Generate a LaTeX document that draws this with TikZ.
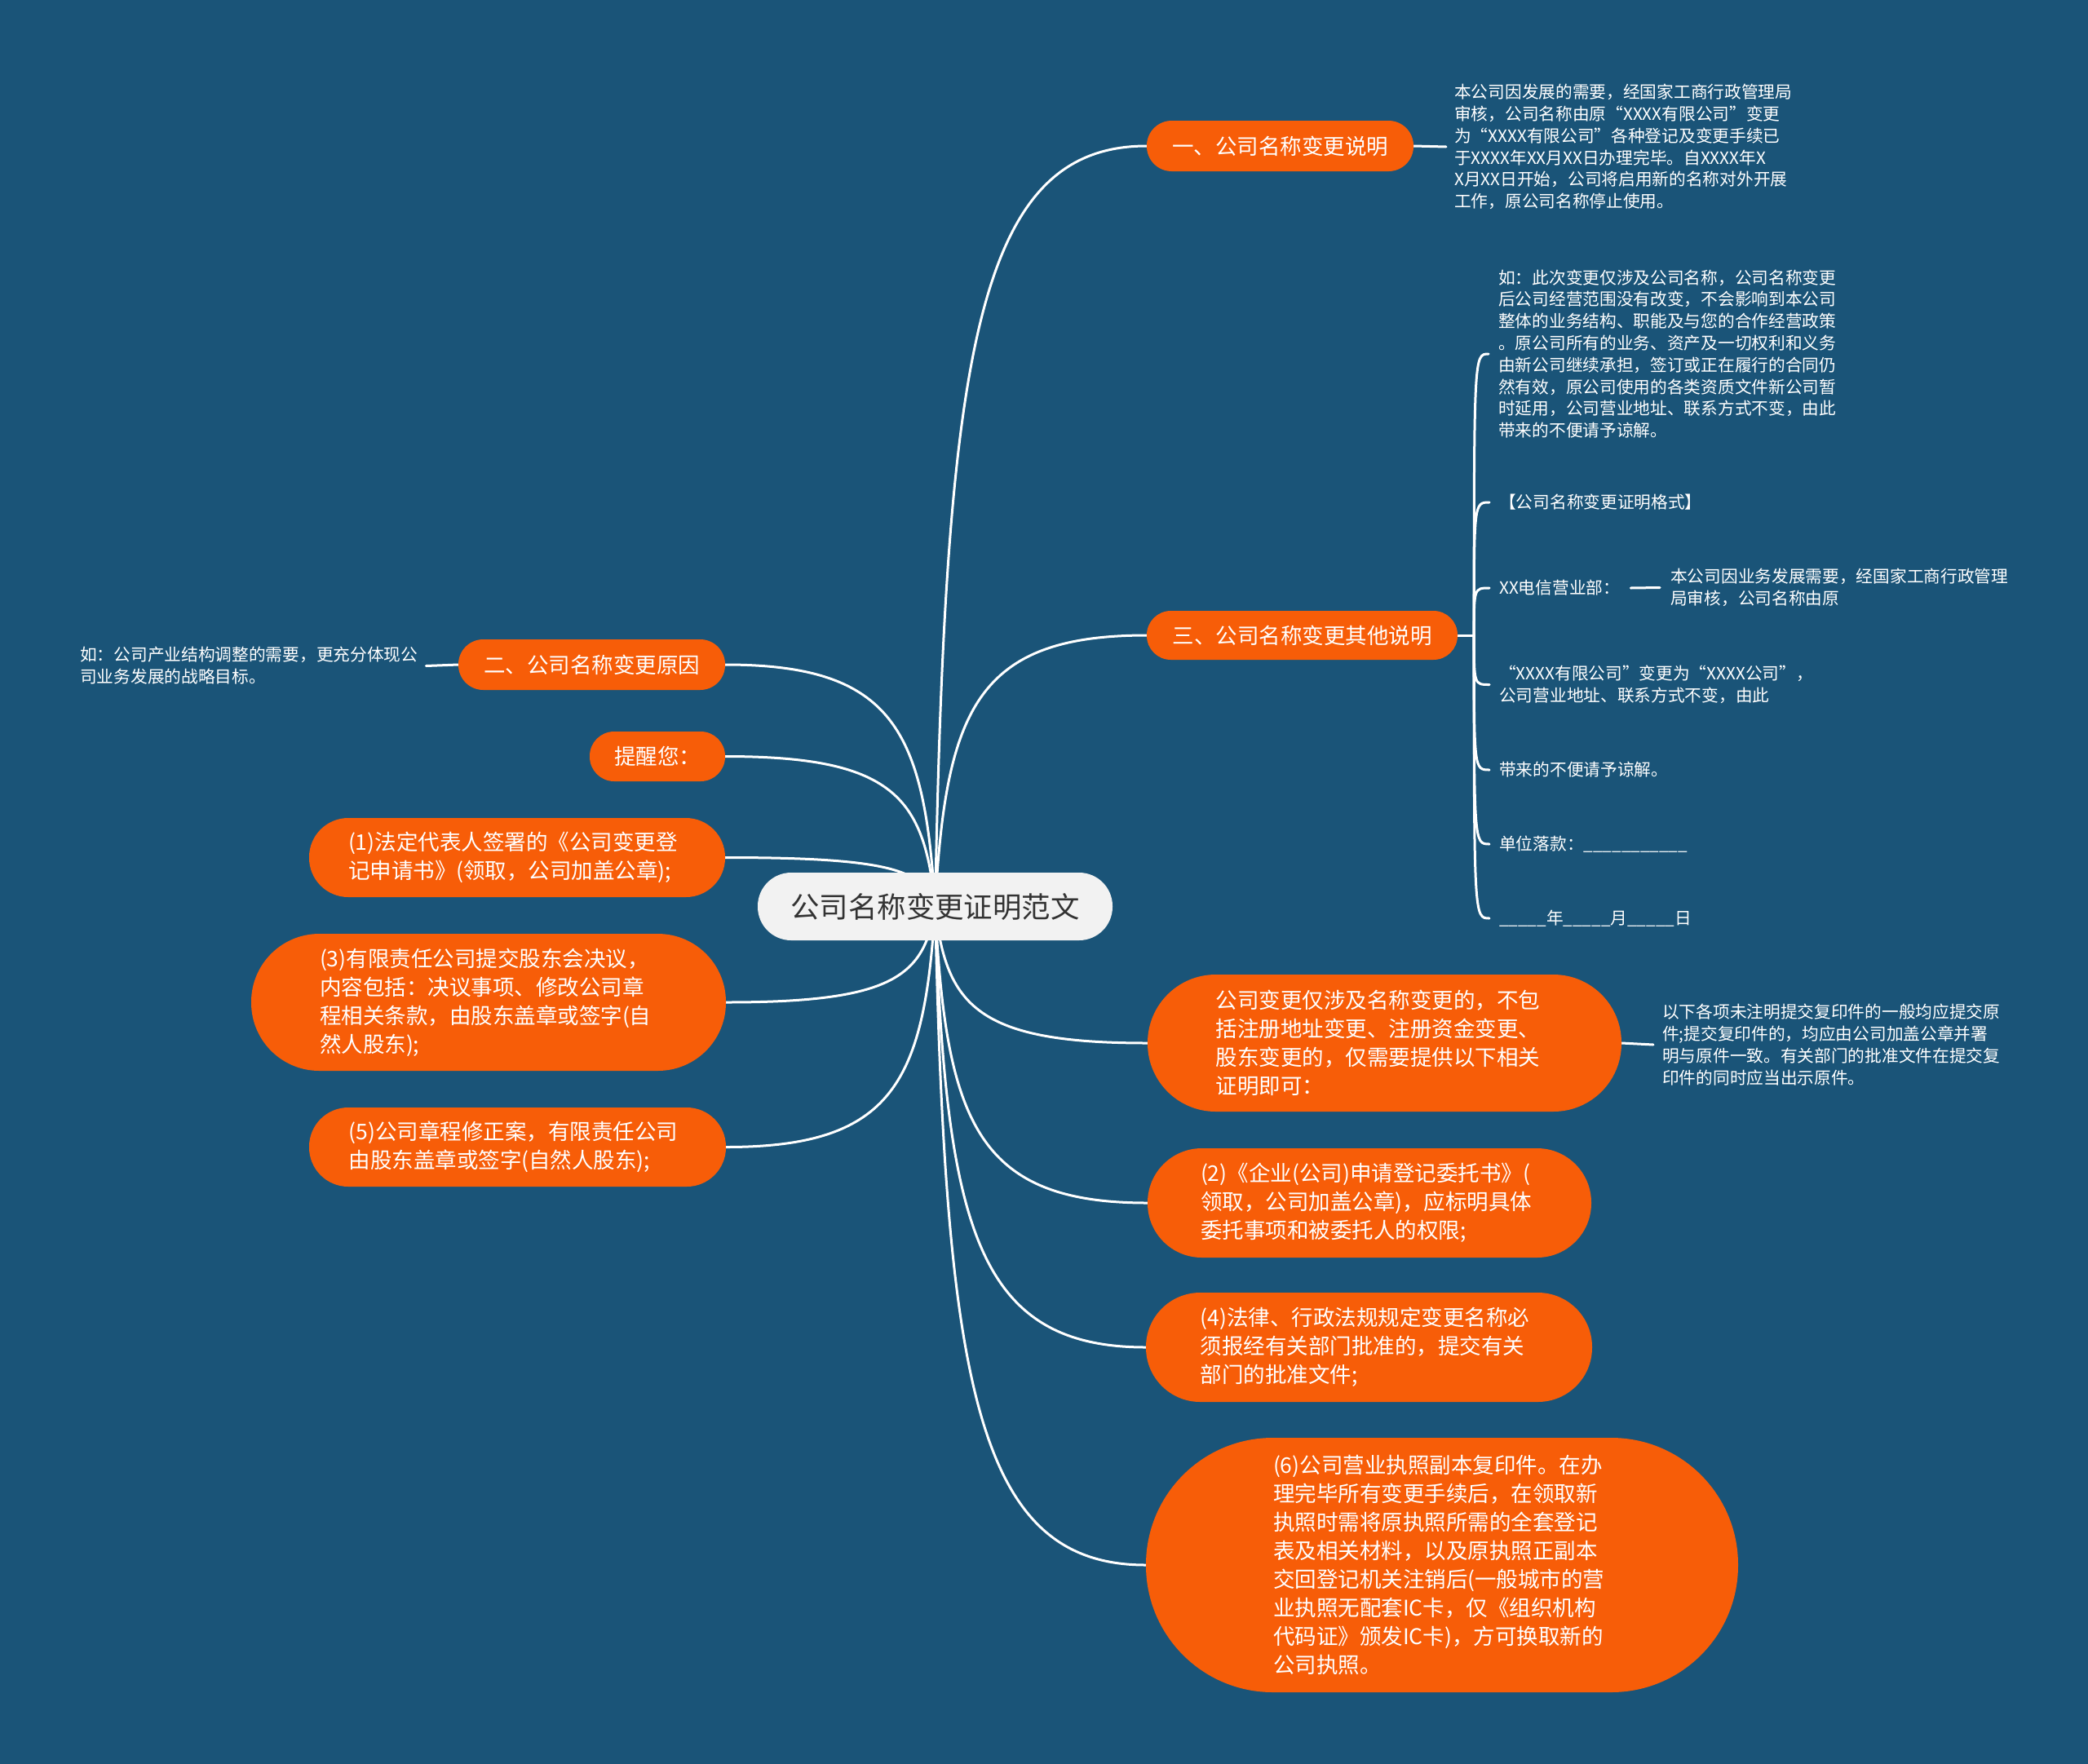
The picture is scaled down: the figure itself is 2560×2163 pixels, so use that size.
\documentclass[tikz,border=0pt]{standalone}
\usepackage{fontspec}
\setmainfont{Noto Sans CJK SC}
\usetikzlibrary{calc}
\definecolor{bgblue}{HTML}{1A5478}
\definecolor{orng}{HTML}{F75D08}
\definecolor{cent}{HTML}{F2F2F2}
\definecolor{ctext}{HTML}{333333}
\pgfdeclarelayer{back}
\pgfdeclarelayer{lines}
\pgfsetlayers{back,lines,main}
\tikzset{
  conn/.style={draw=white, line width=3pt, line cap=round},
  link/.style={conn, to path={let \p1=(\tikztostart), \p2=(\tikztotarget) in
      .. controls ({\x1+0.05*(\x2-\x1)},{\y1+0.73*(\y2-\y1)}) and ({\x1+0.2*(\x2-\x1)},{\y2}) .. (\tikztotarget)}},
  topic/.style n args={3}{fill=orng, text=white, font=\fontsize{26.5}{35}\selectfont,
      inner sep=0pt, minimum width=#1, minimum height=#2, rounded corners=#3},
  multi/.style={text width=414pt, align=left},
  leaf/.style={text=white, font=\fontsize{20.7}{26.8}\selectfont, inner sep=0pt, align=left, anchor=west},
  root/.style={fill=cent, text=ctext, font=\fontsize{35.4}{40}\selectfont, inner sep=0pt,
      minimum width=435pt, minimum height=83pt, rounded corners=41pt},
}
\begin{document}
\begin{tikzpicture}[x=1pt,y=-1pt]
\useasboundingbox (0,0) rectangle (2560,2163);
\begin{pgfonlayer}{back}
\fill[bgblue] (0,0) rectangle (2560,2163);
\end{pgfonlayer}

% root
\node[root] (cen) at (1146.5,1111.5) {公司名称变更证明范文};

% right topics
\node[topic={327pt}{62pt}{30.5pt}] (n1) at (1569.5,179) {一、公司名称变更说明};
\node[topic={381pt}{60pt}{29.5pt}] (n3) at (1596.5,779) {三、公司名称变更其他说明};
\node[topic={581pt}{168pt}{83.5pt}, multi] (nb) at (1697.5,1279) {公司变更仅涉及名称变更的，不包\\括注册地址变更、注册资金变更、\\股东变更的，仅需要提供以下相关\\证明即可：};
\node[topic={544pt}{134pt}{66.5pt}, multi] (p2) at (1679,1475) {(2)《企业(公司)申请登记委托书》(\\领取，公司加盖公章)，应标明具体\\委托事项和被委托人的权限;};
\node[topic={547pt}{134pt}{66.5pt}, multi] (p4) at (1678.5,1652) {(4)法律、行政法规规定变更名称必\\须报经有关部门批准的，提交有关\\部门的批准文件;};
\node[topic={726pt}{312pt}{155.5pt}, multi] (p6) at (1768,1919) {(6)公司营业执照副本复印件。在办\\理完毕所有变更手续后，在领取新\\执照时需将原执照所需的全套登记\\表及相关材料，以及原执照正副本\\交回登记机关注销后(一般城市的营\\业执照无配套IC卡，仅《组织机构\\代码证》颁发IC卡)，方可换取新的\\公司执照。};

% left topics
\node[topic={327pt}{62pt}{30.5pt}] (n2) at (725.5,815) {二、公司名称变更原因};
\node[topic={166pt}{61pt}{30pt}] (rem) at (806,927.5) {提醒您：};
\node[topic={510pt}{97pt}{48pt}, multi] (p1) at (634,1051.5) {(1)法定代表人签署的《公司变更登\\记申请书》(领取，公司加盖公章);};
\node[topic={582pt}{168pt}{83.5pt}, multi] (p3) at (599,1229) {(3)有限责任公司提交股东会决议，\\内容包括：决议事项、修改公司章\\程相关条款，由股东盖章或签字(自\\然人股东);};
\node[topic={511pt}{97pt}{48pt}, multi] (p5) at (634.5,1406.5) {(5)公司章程修正案，有限责任公司\\由股东盖章或签字(自然人股东);};

% leaves
\node[leaf] (l1) at (1783,180) {本公司因发展的需要，经国家工商行政管理局\\审核，公司名称由原“XXXX有限公司”变更\\为“XXXX有限公司”各种登记及变更手续已\\于XXXX年XX月XX日办理完毕。自XXXX年X\\X月XX日开始，公司将启用新的名称对外开展\\工作，原公司名称停止使用。};
\node[leaf] (l2) at (98,816.5) {如：公司产业结构调整的需要，更充分体现公\\司业务发展的战略目标。};
\node[leaf] (l31) at (1837,434) {如：此次变更仅涉及公司名称，公司名称变更\\后公司经营范围没有改变，不会影响到本公司\\整体的业务结构、职能及与您的合作经营政策\\。原公司所有的业务、资产及一切权利和义务\\由新公司继续承担，签订或正在履行的合同仍\\然有效，原公司使用的各类资质文件新公司暂\\时延用，公司营业地址、联系方式不变，由此\\带来的不便请予谅解。};
\node[leaf] (l32) at (1838,616) {【公司名称变更证明格式】};
\node[leaf] (l33) at (1838,721) {XX电信营业部：};
\node[leaf] (s33) at (2048,720.5) {本公司因业务发展需要，经国家工商行政管理\\局审核，公司名称由原};
\node[leaf] (l34) at (1838,839.5) {“XXXX有限公司”变更为“XXXX公司”，\\公司营业地址、联系方式不变，由此};
\node[leaf] (l35) at (1838,944) {带来的不便请予谅解。};
\node[leaf] (l36) at (1838,1035) {单位落款：\_\_\_\_\_\_\_\_\_\_\_};
\node[leaf] (l37) at (1838,1126) {\_\_\_\_\_年\_\_\_\_\_月\_\_\_\_\_日};
\node[leaf] (l4) at (2038,1281) {以下各项未注明提交复印件的一般均应提交原\\件;提交复印件的，均应由公司加盖公章并署\\明与原件一致。有关部门的批准文件在提交复\\印件的同时应当出示原件。};

% bracket points
\coordinate (b3) at ([xshift=20pt]n3.east);
\coordinate (t1) at ([xshift=-12pt]l31.west);
\coordinate (t2) at ([xshift=-12pt]l32.west);
\coordinate (t3) at ([xshift=-12pt]l33.west);
\coordinate (t4) at ([xshift=-12pt]l34.west);
\coordinate (t5) at ([xshift=-12pt]l35.west);
\coordinate (t6) at ([xshift=-12pt]l36.west);
\coordinate (t7) at ([xshift=-12pt]l37.west);

\begin{pgfonlayer}{lines}
\draw[link] (cen.center) to (n1.west);
\draw[link] (cen.center) to (n3.west);
\draw[link] (cen.center) to (nb.west);
\draw[link] (cen.center) to (p2.west);
\draw[link] (cen.center) to (p4.west);
\draw[link] (cen.center) to (p6.west);
\draw[link] (cen.center) to (n2.east);
\draw[link] (cen.center) to (rem.east);
\draw[link] (cen.center) to (p1.east);
\draw[link] (cen.center) to (p3.east);
\draw[link] (cen.center) to (p5.east);
% leaf dashes
\draw[conn] (n1.east) -- ([xshift=-10pt]l1.west);
\draw[conn] (n2.west) -- ([xshift=10pt]l2.east);
\draw[conn] (nb.east) -- ([xshift=-11pt]l4.west);
\draw[conn] ([xshift=13pt]l33.east) -- ([xshift=-13pt]s33.west);
% bracket
\draw[conn] (n3.east) -- (b3);
\foreach \t in {t1,t2,t3,t4,t5,t6,t7}{
  \draw[conn] (b3) .. controls (b3 |- \t) .. (\t);
}
\end{pgfonlayer}
\end{tikzpicture}
\end{document}
